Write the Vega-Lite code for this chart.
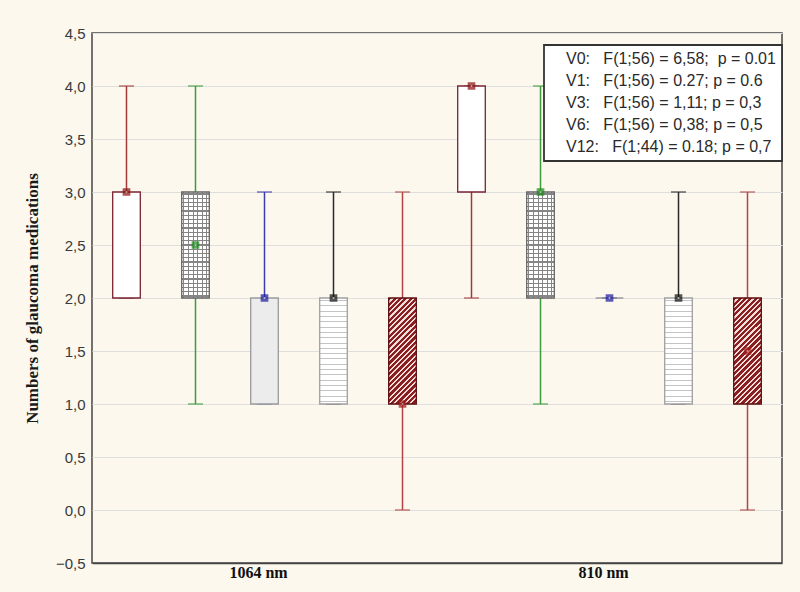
{
  "$schema": "https://vega.github.io/schema/vega-lite/v6.json",
  "width": 690,
  "height": 530,
  "autosize": {"type": "none"},
  "padding": {"left": 92, "top": 33, "right": 18, "bottom": 29},
  "background": "#fcf8ee",
  "config": {
    "view": {"fill": "white", "stroke": "#444", "strokeWidth": 1.5},
    "axisY": {
      "labelExpr": "replace(format(datum.value, '.1f'), '.', ',')",
      "labelFont": "Liberation Sans",
      "labelFontSize": 15,
      "labelColor": "#3a3a3a",
      "labelPadding": 7,
      "ticks": false,
      "domain": false,
      "gridColor": "#dedede",
      "titleFont": "Liberation Serif",
      "titleFontWeight": "bold",
      "titleFontSize": 17,
      "titleColor": "#1a1a1a",
      "titleX": -60,
      "titleBaseline": "middle"
    },
    "axisX": {
      "labelFont": "Liberation Serif",
      "labelFontWeight": "bold",
      "labelFontSize": 16,
      "labelColor": "#111",
      "labelPadding": 1,
      "labelOffset": -6,
      "labelAngle": 0,
      "ticks": false,
      "domainColor": "#444",
      "domainWidth": 1.5
    },
    "legend": {
      "orient": "none",
      "legendX": 452,
      "legendY": 12,
      "symbolSize": 0,
      "symbolOpacity": 0,
      "symbolStrokeWidth": 0,
      "labelOffset": 0,
      "labelFont": "Liberation Sans",
      "labelFontSize": 16,
      "labelColor": "#2a2a2a",
      "labelLimit": 500,
      "rowPadding": 6,
      "padding": 6,
      "strokeColor": "#333",
      "strokeWidth": 1.8,
      "fillColor": "white"
    }
  },
  "datasets": {
    "boxes": [
      {"group": "1064 nm", "v": "V0", "min": 2, "q1": 2, "q3": 3, "max": 4, "mid": 3},
      {"group": "1064 nm", "v": "V1", "min": 1, "q1": 2, "q3": 3, "max": 4, "mid": 2.5},
      {"group": "1064 nm", "v": "V3", "min": 1, "q1": 1, "q3": 2, "max": 3, "mid": 2},
      {"group": "1064 nm", "v": "V6", "min": 1, "q1": 1, "q3": 2, "max": 3, "mid": 2},
      {"group": "1064 nm", "v": "V12", "min": 0, "q1": 1, "q3": 2, "max": 3, "mid": 1},
      {"group": "810 nm", "v": "V0", "min": 2, "q1": 3, "q3": 4, "max": 4, "mid": 4},
      {"group": "810 nm", "v": "V1", "min": 1, "q1": 2, "q3": 3, "max": 4, "mid": 3},
      {"group": "810 nm", "v": "V3", "min": 2, "q1": 2, "q3": 2, "max": 2, "mid": 2},
      {"group": "810 nm", "v": "V6", "min": 1, "q1": 1, "q3": 2, "max": 3, "mid": 2},
      {"group": "810 nm", "v": "V12", "min": 0, "q1": 1, "q3": 2, "max": 3, "mid": 1.5}
    ],
    "stats": [
      {"label": "V0:\u00a0\u00a0\u00a0F(1;56) = 6,58;\u00a0\u00a0p = 0.01"},
      {"label": "\u00a0V1:\u00a0\u00a0\u00a0F(1;56) = 0.27; p = 0.6"},
      {"label": "\u00a0V3:\u00a0\u00a0\u00a0F(1;56) = 1,11; p = 0,3"},
      {"label": "\u00a0V6:\u00a0\u00a0\u00a0F(1;56) = 0,38; p = 0,5"},
      {"label": "\u00a0V12:\u00a0\u00a0\u00a0F(1;44) = 0.18; p = 0,7"}
    ]
  },
  "layer": [
    {
      "data": {"name": "boxes"},
      "encoding": {
        "x": {"field": "group", "type": "nominal", "sort": ["1064 nm", "810 nm"], "scale": {"paddingInner": 0, "paddingOuter": 0}, "title": null},
        "xOffset": {"field": "v", "type": "nominal", "sort": ["V0", "V1", "V3", "V6", "V12"], "scale": {"paddingInner": 0.6, "paddingOuter": 0.3}}
      },
      "layer": [
        {
          "mark": {"type": "rule", "strokeWidth": 1.5},
          "encoding": {
            "y": {"field": "min", "type": "quantitative", "scale": {"domain": [-0.5, 4.5], "nice": false, "zero": false}, "title": "Numbers of glaucoma medications"},
            "y2": {"field": "max"},
            "color": {"field": "v", "type": "nominal", "scale": {"domain": ["V0", "V1", "V3", "V6", "V12"], "range": ["#a03a3a", "#3c9c3c", "#3c3cae", "#2a2a2a", "#b44444"]}, "legend": null}
          }
        },
        {
          "mark": {"type": "tick", "thickness": 1.5, "size": 15, "orient": "horizontal"},
          "encoding": {
            "y": {"field": "max", "type": "quantitative", "title": "Numbers of glaucoma medications"},
            "color": {"field": "v", "type": "nominal", "legend": null}
          }
        },
        {
          "mark": {"type": "tick", "thickness": 1.5, "size": 15, "orient": "horizontal"},
          "encoding": {
            "y": {"field": "min", "type": "quantitative", "title": "Numbers of glaucoma medications"},
            "color": {"field": "v", "type": "nominal", "legend": null}
          }
        },
        {
          "transform": [{"filter": "datum.v === 'V0'"}],
          "mark": {"type": "bar", "fill": "#ffffff", "stroke": "#7a2430", "strokeWidth": 1.3},
          "encoding": {
            "y": {"field": "q1", "type": "quantitative", "title": "Numbers of glaucoma medications"},
            "y2": {"field": "q3"}
          }
        },
        {
          "transform": [{"filter": "datum.v === 'V1'"}],
          "mark": {"type": "bar", "strokeWidth": 0,
            "fill": {"gradient": "linear", "x1": 0, "y1": 0, "x2": 1, "y2": 0, "stops": [
              {"offset": 0, "color": "#fff"}, {"offset": 0.065, "color": "#fff"}, {"offset": 0.065, "color": "#858585"}, {"offset": 0.101, "color": "#858585"},
              {"offset": 0.101, "color": "#fff"}, {"offset": 0.232, "color": "#fff"}, {"offset": 0.232, "color": "#858585"}, {"offset": 0.268, "color": "#858585"},
              {"offset": 0.268, "color": "#fff"}, {"offset": 0.398, "color": "#fff"}, {"offset": 0.398, "color": "#858585"}, {"offset": 0.434, "color": "#858585"},
              {"offset": 0.434, "color": "#fff"}, {"offset": 0.565, "color": "#fff"}, {"offset": 0.565, "color": "#858585"}, {"offset": 0.601, "color": "#858585"},
              {"offset": 0.601, "color": "#fff"}, {"offset": 0.732, "color": "#fff"}, {"offset": 0.732, "color": "#858585"}, {"offset": 0.768, "color": "#858585"},
              {"offset": 0.768, "color": "#fff"}, {"offset": 0.898, "color": "#fff"}, {"offset": 0.898, "color": "#858585"}, {"offset": 0.934, "color": "#858585"},
              {"offset": 0.934, "color": "#fff"}, {"offset": 1, "color": "#fff"}
            ]}},
          "encoding": {
            "y": {"field": "q1", "type": "quantitative", "title": "Numbers of glaucoma medications"},
            "y2": {"field": "q3"}
          }
        },
        {
          "transform": [{"filter": "datum.v === 'V1'"}],
          "mark": {"type": "bar", "stroke": "#666", "strokeWidth": 1.3,
            "fill": {"gradient": "linear", "x1": 0, "y1": 0, "x2": 0, "y2": 1, "stops": [
              {"offset": 0, "color": "rgba(255,255,255,0)"}, {"offset": 0.014, "color": "rgba(255,255,255,0)"}, {"offset": 0.014, "color": "#858585"}, {"offset": 0.026, "color": "#858585"},
              {"offset": 0.026, "color": "rgba(255,255,255,0)"}, {"offset": 0.054, "color": "rgba(255,255,255,0)"}, {"offset": 0.054, "color": "#858585"}, {"offset": 0.066, "color": "#858585"},
              {"offset": 0.066, "color": "rgba(255,255,255,0)"}, {"offset": 0.094, "color": "rgba(255,255,255,0)"}, {"offset": 0.094, "color": "#858585"}, {"offset": 0.106, "color": "#858585"},
              {"offset": 0.106, "color": "rgba(255,255,255,0)"}, {"offset": 0.134, "color": "rgba(255,255,255,0)"}, {"offset": 0.134, "color": "#858585"}, {"offset": 0.146, "color": "#858585"},
              {"offset": 0.146, "color": "rgba(255,255,255,0)"}, {"offset": 0.174, "color": "rgba(255,255,255,0)"}, {"offset": 0.174, "color": "#858585"}, {"offset": 0.186, "color": "#858585"},
              {"offset": 0.186, "color": "rgba(255,255,255,0)"}, {"offset": 0.214, "color": "rgba(255,255,255,0)"}, {"offset": 0.214, "color": "#858585"}, {"offset": 0.226, "color": "#858585"},
              {"offset": 0.226, "color": "rgba(255,255,255,0)"}, {"offset": 0.254, "color": "rgba(255,255,255,0)"}, {"offset": 0.254, "color": "#858585"}, {"offset": 0.266, "color": "#858585"},
              {"offset": 0.266, "color": "rgba(255,255,255,0)"}, {"offset": 0.294, "color": "rgba(255,255,255,0)"}, {"offset": 0.294, "color": "#858585"}, {"offset": 0.306, "color": "#858585"},
              {"offset": 0.306, "color": "rgba(255,255,255,0)"}, {"offset": 0.334, "color": "rgba(255,255,255,0)"}, {"offset": 0.334, "color": "#858585"}, {"offset": 0.346, "color": "#858585"},
              {"offset": 0.346, "color": "rgba(255,255,255,0)"}, {"offset": 0.374, "color": "rgba(255,255,255,0)"}, {"offset": 0.374, "color": "#858585"}, {"offset": 0.386, "color": "#858585"},
              {"offset": 0.386, "color": "rgba(255,255,255,0)"}, {"offset": 0.414, "color": "rgba(255,255,255,0)"}, {"offset": 0.414, "color": "#858585"}, {"offset": 0.426, "color": "#858585"},
              {"offset": 0.426, "color": "rgba(255,255,255,0)"}, {"offset": 0.454, "color": "rgba(255,255,255,0)"}, {"offset": 0.454, "color": "#858585"}, {"offset": 0.466, "color": "#858585"},
              {"offset": 0.466, "color": "rgba(255,255,255,0)"}, {"offset": 0.494, "color": "rgba(255,255,255,0)"}, {"offset": 0.494, "color": "#858585"}, {"offset": 0.506, "color": "#858585"},
              {"offset": 0.506, "color": "rgba(255,255,255,0)"}, {"offset": 0.534, "color": "rgba(255,255,255,0)"}, {"offset": 0.534, "color": "#858585"}, {"offset": 0.546, "color": "#858585"},
              {"offset": 0.546, "color": "rgba(255,255,255,0)"}, {"offset": 0.574, "color": "rgba(255,255,255,0)"}, {"offset": 0.574, "color": "#858585"}, {"offset": 0.586, "color": "#858585"},
              {"offset": 0.586, "color": "rgba(255,255,255,0)"}, {"offset": 0.614, "color": "rgba(255,255,255,0)"}, {"offset": 0.614, "color": "#858585"}, {"offset": 0.626, "color": "#858585"},
              {"offset": 0.626, "color": "rgba(255,255,255,0)"}, {"offset": 0.654, "color": "rgba(255,255,255,0)"}, {"offset": 0.654, "color": "#858585"}, {"offset": 0.666, "color": "#858585"},
              {"offset": 0.666, "color": "rgba(255,255,255,0)"}, {"offset": 0.694, "color": "rgba(255,255,255,0)"}, {"offset": 0.694, "color": "#858585"}, {"offset": 0.706, "color": "#858585"},
              {"offset": 0.706, "color": "rgba(255,255,255,0)"}, {"offset": 0.734, "color": "rgba(255,255,255,0)"}, {"offset": 0.734, "color": "#858585"}, {"offset": 0.746, "color": "#858585"},
              {"offset": 0.746, "color": "rgba(255,255,255,0)"}, {"offset": 0.774, "color": "rgba(255,255,255,0)"}, {"offset": 0.774, "color": "#858585"}, {"offset": 0.786, "color": "#858585"},
              {"offset": 0.786, "color": "rgba(255,255,255,0)"}, {"offset": 0.814, "color": "rgba(255,255,255,0)"}, {"offset": 0.814, "color": "#858585"}, {"offset": 0.826, "color": "#858585"},
              {"offset": 0.826, "color": "rgba(255,255,255,0)"}, {"offset": 0.854, "color": "rgba(255,255,255,0)"}, {"offset": 0.854, "color": "#858585"}, {"offset": 0.866, "color": "#858585"},
              {"offset": 0.866, "color": "rgba(255,255,255,0)"}, {"offset": 0.894, "color": "rgba(255,255,255,0)"}, {"offset": 0.894, "color": "#858585"}, {"offset": 0.906, "color": "#858585"},
              {"offset": 0.906, "color": "rgba(255,255,255,0)"}, {"offset": 0.934, "color": "rgba(255,255,255,0)"}, {"offset": 0.934, "color": "#858585"}, {"offset": 0.946, "color": "#858585"},
              {"offset": 0.946, "color": "rgba(255,255,255,0)"}, {"offset": 0.974, "color": "rgba(255,255,255,0)"}, {"offset": 0.974, "color": "#858585"}, {"offset": 0.986, "color": "#858585"},
              {"offset": 0.986, "color": "rgba(255,255,255,0)"}, {"offset": 1, "color": "rgba(255,255,255,0)"}
            ]}},
          "encoding": {
            "y": {"field": "q1", "type": "quantitative", "title": "Numbers of glaucoma medications"},
            "y2": {"field": "q3"}
          }
        },
        {
          "transform": [{"filter": "datum.v === 'V3'"}],
          "mark": {"type": "bar", "fill": "#ececec", "stroke": "#9a9a9a", "strokeWidth": 1.3},
          "encoding": {
            "y": {"field": "q1", "type": "quantitative", "title": "Numbers of glaucoma medications"},
            "y2": {"field": "q3"}
          }
        },
        {
          "transform": [{"filter": "datum.v === 'V6'"}],
          "mark": {"type": "bar", "stroke": "#a0a0a0", "strokeWidth": 1.3,
            "fill": {"gradient": "linear", "x1": 0, "y1": 0, "x2": 0, "y2": 1, "stops": [
              {"offset": 0, "color": "#fff"}, {"offset": 0.02, "color": "#fff"}, {"offset": 0.02, "color": "#c4c4c4"}, {"offset": 0.03, "color": "#c4c4c4"},
              {"offset": 0.03, "color": "#fff"}, {"offset": 0.07, "color": "#fff"}, {"offset": 0.07, "color": "#c4c4c4"}, {"offset": 0.08, "color": "#c4c4c4"},
              {"offset": 0.08, "color": "#fff"}, {"offset": 0.12, "color": "#fff"}, {"offset": 0.12, "color": "#c4c4c4"}, {"offset": 0.13, "color": "#c4c4c4"},
              {"offset": 0.13, "color": "#fff"}, {"offset": 0.17, "color": "#fff"}, {"offset": 0.17, "color": "#c4c4c4"}, {"offset": 0.18, "color": "#c4c4c4"},
              {"offset": 0.18, "color": "#fff"}, {"offset": 0.22, "color": "#fff"}, {"offset": 0.22, "color": "#c4c4c4"}, {"offset": 0.23, "color": "#c4c4c4"},
              {"offset": 0.23, "color": "#fff"}, {"offset": 0.27, "color": "#fff"}, {"offset": 0.27, "color": "#c4c4c4"}, {"offset": 0.28, "color": "#c4c4c4"},
              {"offset": 0.28, "color": "#fff"}, {"offset": 0.32, "color": "#fff"}, {"offset": 0.32, "color": "#c4c4c4"}, {"offset": 0.33, "color": "#c4c4c4"},
              {"offset": 0.33, "color": "#fff"}, {"offset": 0.37, "color": "#fff"}, {"offset": 0.37, "color": "#c4c4c4"}, {"offset": 0.38, "color": "#c4c4c4"},
              {"offset": 0.38, "color": "#fff"}, {"offset": 0.42, "color": "#fff"}, {"offset": 0.42, "color": "#c4c4c4"}, {"offset": 0.43, "color": "#c4c4c4"},
              {"offset": 0.43, "color": "#fff"}, {"offset": 0.47, "color": "#fff"}, {"offset": 0.47, "color": "#c4c4c4"}, {"offset": 0.48, "color": "#c4c4c4"},
              {"offset": 0.48, "color": "#fff"}, {"offset": 0.52, "color": "#fff"}, {"offset": 0.52, "color": "#c4c4c4"}, {"offset": 0.53, "color": "#c4c4c4"},
              {"offset": 0.53, "color": "#fff"}, {"offset": 0.57, "color": "#fff"}, {"offset": 0.57, "color": "#c4c4c4"}, {"offset": 0.58, "color": "#c4c4c4"},
              {"offset": 0.58, "color": "#fff"}, {"offset": 0.62, "color": "#fff"}, {"offset": 0.62, "color": "#c4c4c4"}, {"offset": 0.63, "color": "#c4c4c4"},
              {"offset": 0.63, "color": "#fff"}, {"offset": 0.67, "color": "#fff"}, {"offset": 0.67, "color": "#c4c4c4"}, {"offset": 0.68, "color": "#c4c4c4"},
              {"offset": 0.68, "color": "#fff"}, {"offset": 0.72, "color": "#fff"}, {"offset": 0.72, "color": "#c4c4c4"}, {"offset": 0.73, "color": "#c4c4c4"},
              {"offset": 0.73, "color": "#fff"}, {"offset": 0.77, "color": "#fff"}, {"offset": 0.77, "color": "#c4c4c4"}, {"offset": 0.78, "color": "#c4c4c4"},
              {"offset": 0.78, "color": "#fff"}, {"offset": 0.82, "color": "#fff"}, {"offset": 0.82, "color": "#c4c4c4"}, {"offset": 0.83, "color": "#c4c4c4"},
              {"offset": 0.83, "color": "#fff"}, {"offset": 0.87, "color": "#fff"}, {"offset": 0.87, "color": "#c4c4c4"}, {"offset": 0.88, "color": "#c4c4c4"},
              {"offset": 0.88, "color": "#fff"}, {"offset": 0.92, "color": "#fff"}, {"offset": 0.92, "color": "#c4c4c4"}, {"offset": 0.93, "color": "#c4c4c4"},
              {"offset": 0.93, "color": "#fff"}, {"offset": 0.97, "color": "#fff"}, {"offset": 0.97, "color": "#c4c4c4"}, {"offset": 0.98, "color": "#c4c4c4"},
              {"offset": 0.98, "color": "#fff"}, {"offset": 1, "color": "#fff"}
            ]}},
          "encoding": {
            "y": {"field": "q1", "type": "quantitative", "title": "Numbers of glaucoma medications"},
            "y2": {"field": "q3"}
          }
        },
        {
          "transform": [{"filter": "datum.v === 'V12'"}],
          "mark": {"type": "bar", "stroke": "#5c0d0d", "strokeWidth": 1.3,
            "fill": {"gradient": "linear", "x1": 0, "y1": 0, "x2": 0.307, "y2": 1.18, "stops": [
              {"offset": 0, "color": "#8a1f1f"}, {"offset": 0.024, "color": "#8a1f1f"}, {"offset": 0.024, "color": "#f3dcdc"}, {"offset": 0.04, "color": "#f3dcdc"},
              {"offset": 0.04, "color": "#8a1f1f"}, {"offset": 0.064, "color": "#8a1f1f"}, {"offset": 0.064, "color": "#f3dcdc"}, {"offset": 0.08, "color": "#f3dcdc"},
              {"offset": 0.08, "color": "#8a1f1f"}, {"offset": 0.104, "color": "#8a1f1f"}, {"offset": 0.104, "color": "#f3dcdc"}, {"offset": 0.12, "color": "#f3dcdc"},
              {"offset": 0.12, "color": "#8a1f1f"}, {"offset": 0.144, "color": "#8a1f1f"}, {"offset": 0.144, "color": "#f3dcdc"}, {"offset": 0.16, "color": "#f3dcdc"},
              {"offset": 0.16, "color": "#8a1f1f"}, {"offset": 0.184, "color": "#8a1f1f"}, {"offset": 0.184, "color": "#f3dcdc"}, {"offset": 0.2, "color": "#f3dcdc"},
              {"offset": 0.2, "color": "#8a1f1f"}, {"offset": 0.224, "color": "#8a1f1f"}, {"offset": 0.224, "color": "#f3dcdc"}, {"offset": 0.24, "color": "#f3dcdc"},
              {"offset": 0.24, "color": "#8a1f1f"}, {"offset": 0.264, "color": "#8a1f1f"}, {"offset": 0.264, "color": "#f3dcdc"}, {"offset": 0.28, "color": "#f3dcdc"},
              {"offset": 0.28, "color": "#8a1f1f"}, {"offset": 0.304, "color": "#8a1f1f"}, {"offset": 0.304, "color": "#f3dcdc"}, {"offset": 0.32, "color": "#f3dcdc"},
              {"offset": 0.32, "color": "#8a1f1f"}, {"offset": 0.344, "color": "#8a1f1f"}, {"offset": 0.344, "color": "#f3dcdc"}, {"offset": 0.36, "color": "#f3dcdc"},
              {"offset": 0.36, "color": "#8a1f1f"}, {"offset": 0.384, "color": "#8a1f1f"}, {"offset": 0.384, "color": "#f3dcdc"}, {"offset": 0.4, "color": "#f3dcdc"},
              {"offset": 0.4, "color": "#8a1f1f"}, {"offset": 0.424, "color": "#8a1f1f"}, {"offset": 0.424, "color": "#f3dcdc"}, {"offset": 0.44, "color": "#f3dcdc"},
              {"offset": 0.44, "color": "#8a1f1f"}, {"offset": 0.464, "color": "#8a1f1f"}, {"offset": 0.464, "color": "#f3dcdc"}, {"offset": 0.48, "color": "#f3dcdc"},
              {"offset": 0.48, "color": "#8a1f1f"}, {"offset": 0.504, "color": "#8a1f1f"}, {"offset": 0.504, "color": "#f3dcdc"}, {"offset": 0.52, "color": "#f3dcdc"},
              {"offset": 0.52, "color": "#8a1f1f"}, {"offset": 0.544, "color": "#8a1f1f"}, {"offset": 0.544, "color": "#f3dcdc"}, {"offset": 0.56, "color": "#f3dcdc"},
              {"offset": 0.56, "color": "#8a1f1f"}, {"offset": 0.584, "color": "#8a1f1f"}, {"offset": 0.584, "color": "#f3dcdc"}, {"offset": 0.6, "color": "#f3dcdc"},
              {"offset": 0.6, "color": "#8a1f1f"}, {"offset": 0.624, "color": "#8a1f1f"}, {"offset": 0.624, "color": "#f3dcdc"}, {"offset": 0.64, "color": "#f3dcdc"},
              {"offset": 0.64, "color": "#8a1f1f"}, {"offset": 0.664, "color": "#8a1f1f"}, {"offset": 0.664, "color": "#f3dcdc"}, {"offset": 0.68, "color": "#f3dcdc"},
              {"offset": 0.68, "color": "#8a1f1f"}, {"offset": 0.704, "color": "#8a1f1f"}, {"offset": 0.704, "color": "#f3dcdc"}, {"offset": 0.72, "color": "#f3dcdc"},
              {"offset": 0.72, "color": "#8a1f1f"}, {"offset": 0.744, "color": "#8a1f1f"}, {"offset": 0.744, "color": "#f3dcdc"}, {"offset": 0.76, "color": "#f3dcdc"},
              {"offset": 0.76, "color": "#8a1f1f"}, {"offset": 0.784, "color": "#8a1f1f"}, {"offset": 0.784, "color": "#f3dcdc"}, {"offset": 0.8, "color": "#f3dcdc"},
              {"offset": 0.8, "color": "#8a1f1f"}, {"offset": 0.824, "color": "#8a1f1f"}, {"offset": 0.824, "color": "#f3dcdc"}, {"offset": 0.84, "color": "#f3dcdc"},
              {"offset": 0.84, "color": "#8a1f1f"}, {"offset": 0.864, "color": "#8a1f1f"}, {"offset": 0.864, "color": "#f3dcdc"}, {"offset": 0.88, "color": "#f3dcdc"},
              {"offset": 0.88, "color": "#8a1f1f"}, {"offset": 0.904, "color": "#8a1f1f"}, {"offset": 0.904, "color": "#f3dcdc"}, {"offset": 0.92, "color": "#f3dcdc"},
              {"offset": 0.92, "color": "#8a1f1f"}, {"offset": 0.944, "color": "#8a1f1f"}, {"offset": 0.944, "color": "#f3dcdc"}, {"offset": 0.96, "color": "#f3dcdc"},
              {"offset": 0.96, "color": "#8a1f1f"}, {"offset": 0.984, "color": "#8a1f1f"}, {"offset": 0.984, "color": "#f3dcdc"}, {"offset": 1, "color": "#f3dcdc"}
            ]}},
          "encoding": {
            "y": {"field": "q1", "type": "quantitative", "title": "Numbers of glaucoma medications"},
            "y2": {"field": "q3"}
          }
        },
        {
          "mark": {"type": "square", "size": 22, "filled": true, "fill": "#e8f0e8", "strokeWidth": 3},
          "encoding": {
            "y": {"field": "mid", "type": "quantitative", "title": "Numbers of glaucoma medications"},
            "stroke": {"field": "v", "type": "nominal", "scale": {"domain": ["V0", "V1", "V3", "V6", "V12"], "range": ["#8b1010", "#1a8a1a", "#1a1aa0", "#111111", "#a31c1c"]}, "legend": null}
          }
        }
      ]
    },
    {
      "data": {"name": "stats"},
      "mark": {"type": "point", "opacity": 0},
      "encoding": {
        "shape": {"field": "label", "type": "nominal", "sort": null, "legend": {"title": null}}
      }
    }
  ]
}
